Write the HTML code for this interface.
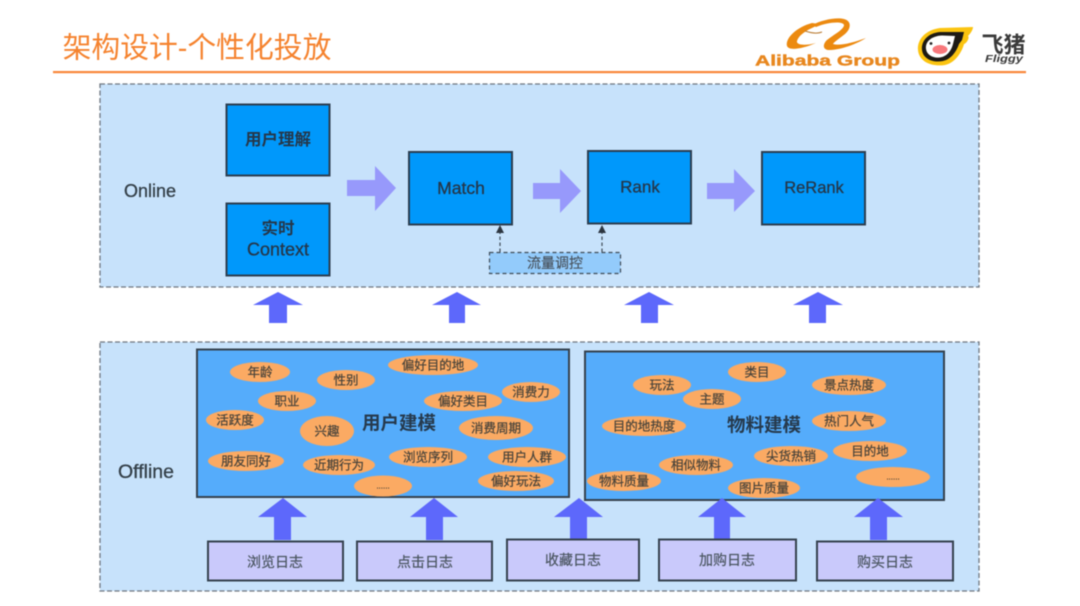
<!DOCTYPE html>
<html><head><meta charset="utf-8">
<style>
html,body{margin:0;padding:0;background:#fff;width:1080px;height:606px;overflow:hidden}
svg{display:block;filter:blur(0.5px)}
text{font-family:"Liberation Sans","Noto Sans CJK SC",sans-serif;text-anchor:middle;dominant-baseline:central}
.panel{fill:#c7e2fb;stroke:#6f7780;stroke-width:1.3;stroke-dasharray:5 2.500}
.bl{fill:#0098fb;stroke:#2c3e50;stroke-width:2}
.lg{fill:#55acfb;stroke:#35424f;stroke-width:2}
.log{fill:#c9c9fb;stroke:#35424f;stroke-width:2}
.e{fill:#fbaa63}
.et{font-size:12.5px;fill:#46423a;stroke:#46423a;stroke-width:.2}
.t{fill:#25374a;font-size:17px;stroke:#25374a;stroke-width:.3}
.lt{fill:#4a5560;font-size:14px;stroke:#4a5560;stroke-width:.2}
.ua{fill:#5d68fb}
.ra{fill:#9799fb}
</style></head><body>
<svg width="1080" height="606" viewBox="0 0 1080 606" xmlns="http://www.w3.org/2000/svg">
<rect width="1080" height="606" fill="#fff"/>
<text x="197" y="48.500" font-size="28.800" style="fill:#f5832f">架构设计-个性化投放</text>
<rect x="53" y="71" width="973" height="2.2" fill="#f9873a"/>

<!-- Alibaba logo -->
<path d="M812 23 C797 27 785 38 787 46 C789 51 802 49 816 43 C805 46 796 45 797 41 C798 37 803 32 812 28 L820 24 Z" fill="#ec8a10"/>
<path d="M812 25 C822 20 836 17 844 19 C852 21 851 29 845 34 C840 38 834 42 833 44 C840 46 852 43 866 38 C853 46 838 50 829 50 C824 50 822 46 826 41 C831 36 844 30 844 25 C843 21 828 22 816 27 Z" fill="#ec8a10"/>
<path d="M805 31 C811 33 817 34 822 32" stroke="#b97a30" stroke-width="1" fill="none"/>
<text x="827.500" y="61" font-size="15" font-weight="bold" textLength="145" lengthAdjust="spacingAndGlyphs" style="fill:#e8871e;stroke:#e8871e;stroke-width:.4">Alibaba Group</text>

<!-- Fliggy logo -->
<path d="M973 27 L940 28 C925 30 917 40 918 50 C919 62 932 67 945 65 C955 63 962 52 964 44 C966 44 970 38 968 36 C970 34 973 30 973 27Z" fill="#fbc410"/>
<path d="M964 32 L940 32 C928 33 921 41 922 50 C923 59 933 63 943 61 C952 59 957 50 959 44 L962 40 Z" fill="#1d1a14"/>
<path d="M955 36 L942 35.500 C931 36 925 42 926 49 C927 56 935 59 942 57 C949 55 952 48 953 44Z" fill="#fff"/>
<ellipse cx="940" cy="49.500" rx="7.500" ry="4.500" fill="#f8787c"/>
<circle cx="931" cy="43.500" r="1.400" fill="#222"/><circle cx="949" cy="43" r="1.400" fill="#222"/>
<text x="1003.500" y="45" font-size="22" font-weight="bold" style="fill:#3a3a3a">飞猪</text>
<text x="1004" y="59.500" font-size="10" font-weight="bold" font-style="italic" textLength="38" lengthAdjust="spacingAndGlyphs" style="fill:#3a3a3a">Fliggy</text>

<!-- panels -->
<rect class="panel" x="100" y="84" width="879" height="203"/>
<rect class="panel" x="100" y="342" width="879" height="249"/>
<text class="t" x="150" y="191" style="font-size:18px;fill:#333f48;stroke:#333f48">Online</text>
<text class="t" x="146" y="472" style="font-size:19.500px;fill:#333f48;stroke:#333f48">Offline</text>

<!-- online boxes -->
<rect class="bl" x="226.500" y="104.500" width="103" height="71"/>
<text class="t" x="278" y="140" font-weight="bold" style="font-size:16.500px;stroke-width:0">用户理解</text>
<rect class="bl" x="226.500" y="203.500" width="103" height="72"/>
<text class="t" x="278" y="229" font-weight="bold" style="font-size:16.500px;stroke-width:0">实时</text>
<text class="t" x="278" y="249.500" style="font-size:18px">Context</text>
<rect class="bl" x="409" y="152" width="103" height="72.500"/>
<text class="t" x="461" y="188" style="font-size:17.500px">Match</text>
<rect class="bl" x="588" y="151" width="103" height="72.500"/>
<text class="t" x="640" y="187">Rank</text>
<rect class="bl" x="762" y="152" width="103" height="72.500"/>
<text class="t" x="814" y="188" style="font-size:16.500px">ReRank</text>

<!-- right arrows -->
<polygon class="ra" points="347,180 375,180 375,166 396,188 375,211 375,196 347,196"/>
<polygon class="ra" points="533,183 560,183 560,169 581,191 560,213 560,199 533,199"/>
<polygon class="ra" points="707,183 734,183 734,169 755,191 734,212 734,199 707,199"/>

<!-- traffic box -->
<rect x="489.500" y="252.500" width="131" height="21" fill="#93cbfb" stroke="#3f4b57" stroke-width="1.2" stroke-dasharray="4 3"/>
<text class="lt" x="555" y="263">流量调控</text>
<path d="M500 252V232M602 252V232" stroke="#3f4b57" stroke-width="1.200" stroke-dasharray="3.500 2.500" fill="none"/>
<polygon points="500,225 496,233 504,233" fill="#2c3540"/>
<polygon points="602,225 598,233 606,233" fill="#2c3540"/>

<!-- middle up arrows -->
<polygon class="ua" points="278,292 303,305 287,305 287,323 269,323 269,305 253,305"/>
<polygon class="ua" points="457,292 481,305 465,305 465,323 449,323 449,305 432,305"/>
<polygon class="ua" points="649,292 674,305 658,305 658,323 641,323 641,305 624,305"/>
<polygon class="ua" points="818,292 843,305 826,305 826,323 809,323 809,305 793,305"/>

<!-- user model -->
<rect class="lg" x="197" y="349.500" width="372" height="147.500"/>
<g class="e">
<ellipse cx="260" cy="372" rx="30" ry="10"/><ellipse cx="346" cy="380" rx="29" ry="10"/>
<ellipse cx="433" cy="365" rx="45" ry="10"/><ellipse cx="531" cy="392" rx="29" ry="10"/>
<ellipse cx="463" cy="401" rx="39" ry="10"/><ellipse cx="287" cy="401" rx="29" ry="10"/>
<ellipse cx="235" cy="420" rx="29" ry="10"/><ellipse cx="327" cy="431" rx="27" ry="15"/>
<ellipse cx="496" cy="428" rx="37" ry="12"/><ellipse cx="246" cy="461" rx="38" ry="10"/>
<ellipse cx="339" cy="465" rx="36" ry="10"/><ellipse cx="428" cy="457" rx="39" ry="10"/>
<ellipse cx="527" cy="457" rx="39" ry="10"/><ellipse cx="516" cy="481" rx="38" ry="10"/>
<ellipse cx="383" cy="486" rx="29" ry="10.500"/>
</g>
<g class="et">
<text x="260" y="372.500">年龄</text><text x="346" y="380.500">性别</text>
<text x="433" y="365.500">偏好目的地</text><text x="531" y="392.500">消费力</text>
<text x="463" y="401.500">偏好类目</text><text x="287" y="401.500">职业</text>
<text x="235" y="420.500">活跃度</text><text x="327" y="431.500">兴趣</text>
<text x="496" y="428.500">消费周期</text><text x="246" y="461.500">朋友同好</text>
<text x="339" y="465.500">近期行为</text><text x="428" y="457.500">浏览序列</text>
<text x="527" y="457.500">用户人群</text><text x="516" y="481.500">偏好玩法</text>
<text x="383" y="486" style="font-size:8px">......</text>
</g>
<text x="399" y="423" font-size="18.500" font-weight="bold" style="fill:#263a4d">用户建模</text>

<!-- material model -->
<rect class="lg" x="585" y="351.500" width="359" height="148.500"/>
<g class="e">
<ellipse cx="757" cy="372" rx="29" ry="10"/><ellipse cx="662" cy="385" rx="29" ry="10"/>
<ellipse cx="712" cy="399" rx="29" ry="10"/><ellipse cx="849" cy="385" rx="37" ry="10"/>
<ellipse cx="644" cy="426" rx="42" ry="10"/><ellipse cx="849" cy="421" rx="37" ry="10"/>
<ellipse cx="791" cy="456" rx="37" ry="10"/><ellipse cx="870" cy="451" rx="37" ry="10"/>
<ellipse cx="696" cy="465" rx="37" ry="10"/><ellipse cx="624" cy="481" rx="37" ry="10"/>
<ellipse cx="764" cy="488" rx="36" ry="10"/><ellipse cx="893" cy="477" rx="37" ry="10"/>
</g>
<g class="et">
<text x="757" y="372.500">类目</text><text x="662" y="385.500">玩法</text>
<text x="712" y="399.500">主题</text><text x="849" y="385.500">景点热度</text>
<text x="644" y="426.500">目的地热度</text><text x="849" y="421.500">热门人气</text>
<text x="791" y="456.500">尖货热销</text><text x="870" y="451.500">目的地</text>
<text x="696" y="465.500">相似物料</text><text x="624" y="481.500">物料质量</text>
<text x="764" y="488.500">图片质量</text><text x="893" y="477" style="font-size:8px">......</text>
</g>
<text x="764" y="425" font-size="18.500" font-weight="bold" style="fill:#263a4d">物料建模</text>

<!-- lower up arrows -->
<polygon class="ua" points="283,498 307,517 291,517 291,540 274,540 274,517 258,517"/>
<polygon class="ua" points="434,498 458,517 443,517 443,540 426,540 426,517 410,517"/>
<polygon class="ua" points="579,498 603,517 587,517 587,539 570,539 570,517 554,517"/>
<polygon class="ua" points="722,498 746,517 730,517 730,539 714,539 714,517 698,517"/>
<polygon class="ua" points="878,498 903,517 887,517 887,540 870,540 870,517 854,517"/>

<!-- log boxes -->
<rect class="log" x="208" y="541.500" width="135" height="39"/>
<text class="lt" x="275" y="562">浏览日志</text>
<rect class="log" x="357" y="541.500" width="135" height="39"/>
<text class="lt" x="425" y="562">点击日志</text>
<rect class="log" x="507" y="539.500" width="132" height="41"/>
<text class="lt" x="573" y="560">收藏日志</text>
<rect class="log" x="659" y="539.500" width="137" height="41"/>
<text class="lt" x="727" y="560">加购日志</text>
<rect class="log" x="817" y="541.500" width="136" height="39"/>
<text class="lt" x="885" y="562">购买日志</text>
</svg>
</body></html>
